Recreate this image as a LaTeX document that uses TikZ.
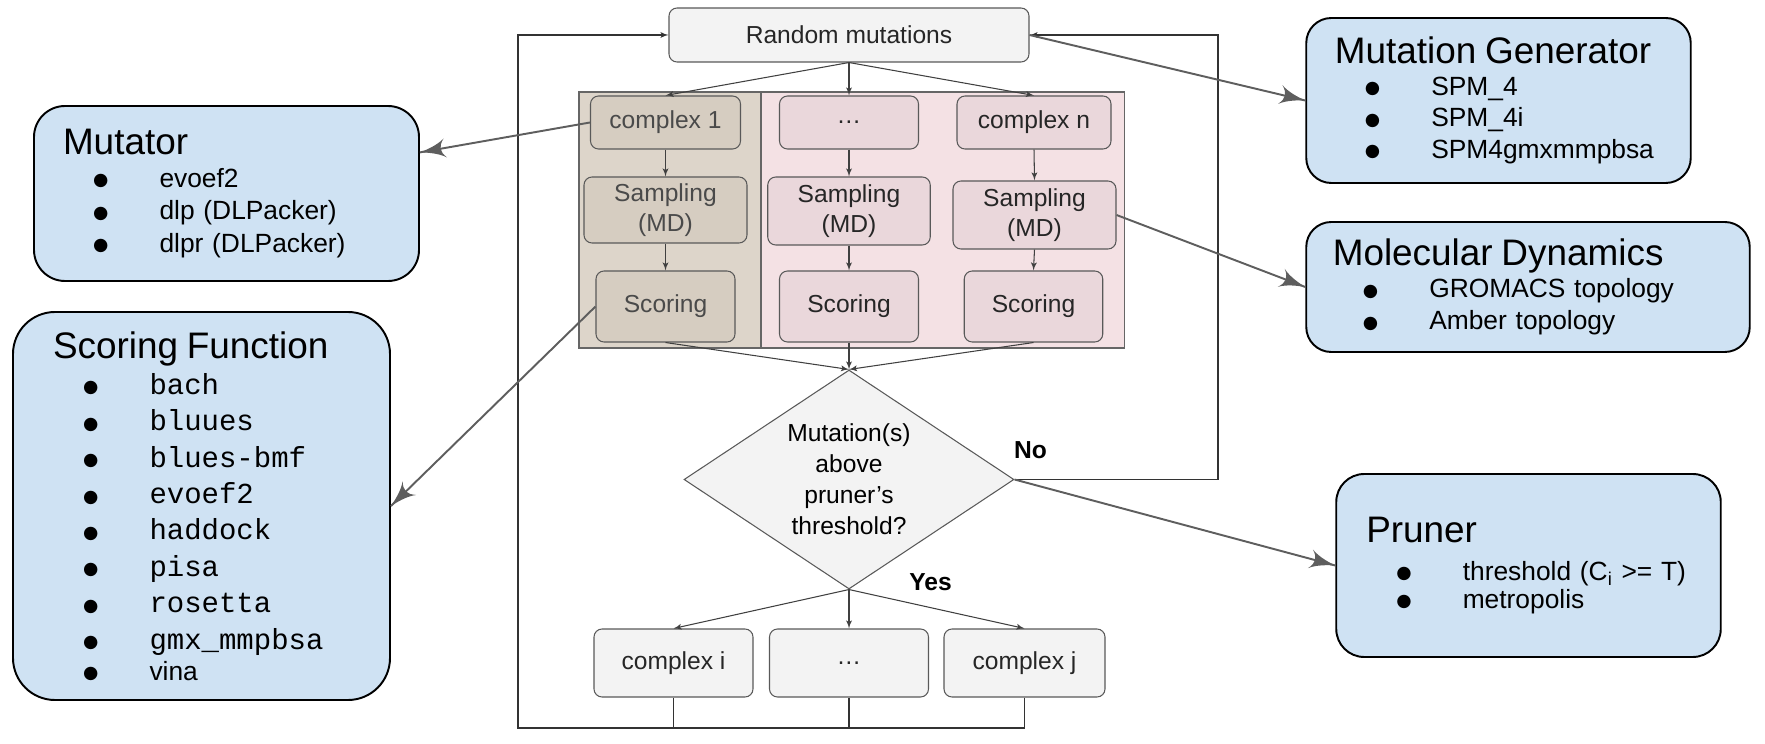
\documentclass[tikz,border=0pt]{standalone}
\usepackage{fontspec}
\setmainfont{Liberation Sans}
\setmonofont{Liberation Mono}
\newfontfamily\dotfont{DejaVu Sans}
\usepackage{tikz}
\usetikzlibrary{arrows}
\usetikzlibrary{decorations.markings}
\usetikzlibrary{shapes.geometric}
\usetikzlibrary{positioning}
\definecolor{sideblue}{HTML}{CFE2F3}
\definecolor{boxgray}{HTML}{F3F3F3}
\definecolor{edgegray}{HTML}{595959}
\definecolor{arrowgray}{HTML}{5E5E5E}
\definecolor{sandfill}{HTML}{DDD5CA}
\definecolor{sandbox}{HTML}{D6CDC1}
\definecolor{sandtext}{HTML}{4A4A4A}
\definecolor{pinkfill}{HTML}{F4E1E4}
\definecolor{pinkbox}{HTML}{EAD7DB}
\tikzset{pointer/.style = {draw=arrowgray, line width=1.1pt,
                           decoration={markings,
                                       mark=at position 1 with {\arrow[scale=2.4]{latex'}}},
                           postaction={decorate}}}
\tikzset{flow/.style = {draw=black!75, line width=0.6pt, -latex'}}
\tikzset{loopline/.style = {draw=black!80, line width=0.6pt}}
\tikzset{panelline/.style = {draw=black!60, line width=1.1pt}}
\tikzset{flowbox/.style = {draw=edgegray, fill=boxgray, rounded corners=0.16cm, line width=0.6pt,
                           align=center, inner sep=0pt, text=black!85,
                           font=\fontsize{14}{17}\selectfont}}
\tikzset{sandcell/.style = {flowbox, fill=sandbox, text=sandtext}}
\tikzset{pinkcell/.style = {flowbox, fill=pinkbox}}
\tikzset{decision/.style = {diamond, draw=edgegray, fill=boxgray, line width=0.6pt, aspect=1.5,
                            inner sep=0pt, minimum width=6.6cm, minimum height=4.38cm,
                            align=center, font=\fontsize{14}{17.6}\selectfont}}
\tikzset{infobox/.style = {draw=black, fill=sideblue, line width=1.1pt, align=left,
                           font=\fontsize{15}{18.5}\selectfont}}
\newcommand{\boxtitle}[1]{\noindent{\fontsize{21}{25}\selectfont #1\par}}
\newcommand{\bitem}[1]{\noindent\hspace*{0.6cm}\makebox[1.33cm][l]{\raisebox{0.9pt}{\dotfont\fontsize{10}{10}\selectfont ●}}#1\par}
\newcommand{\monoitem}[1]{\bitem{{\ttfamily\fontsize{16.5}{20.7}\selectfont #1}}}

\begin{document}
\begin{tikzpicture}
    \useasboundingbox (0, 0) rectangle (35.3, 14.86);

    \fill [sandfill] (11.58, 7.9) rectangle (15.22, 13.02);
    \fill [pinkfill] (15.22, 7.9) rectangle (22.49, 13.02);
    \draw [panelline] (11.58, 7.9) rectangle (22.49, 13.02);
    \draw [panelline] (15.22, 7.9) -- (15.22, 13.02);

    \node [flowbox, minimum width=7.2cm, minimum height=1.08cm] (rand) at (16.98, 14.16) {Random mutations};

    \node [sandcell, minimum width=3.0cm, minimum height=1.06cm] (cone) at (13.31, 12.41) {complex 1};
    \node [sandcell, minimum width=3.26cm, minimum height=1.32cm] (sone) at (13.31, 10.66) {Sampling\\(MD)};
    \node [sandcell, minimum width=2.78cm, minimum height=1.42cm] (rone) at (13.31, 8.73) {Scoring};

    \node [pinkcell, minimum width=2.78cm, minimum height=1.06cm] (cdots) at (16.98, 12.41) {…};
    \node [pinkcell, minimum width=3.25cm, minimum height=1.36cm] (sdots) at (16.98, 10.64) {Sampling\\(MD)};
    \node [pinkcell, minimum width=2.78cm, minimum height=1.42cm] (rdots) at (16.98, 8.73) {Scoring};

    \node [pinkcell, minimum width=3.08cm, minimum height=1.06cm] (cn) at (20.68, 12.41) {complex n};
    \node [pinkcell, minimum width=3.26cm, minimum height=1.36cm] (sn) at (20.69, 10.56) {Sampling\\(MD)};
    \node [pinkcell, minimum width=2.77cm, minimum height=1.42cm] (rn) at (20.67, 8.73) {Scoring};

    \node [decision] (dec) at (16.98, 5.27) {Mutation(s)\\above\\pruner’s\\threshold?};

    \node [flowbox, minimum width=3.18cm, minimum height=1.36cm] (ci) at (13.47, 1.6) {complex i};
    \node [flowbox, minimum width=3.18cm, minimum height=1.36cm] (cmid) at (16.98, 1.6) {…};
    \node [flowbox, minimum width=3.22cm, minimum height=1.36cm] (cj) at (20.49, 1.6) {complex j};

    \node [font=\bfseries\fontsize{14}{17}\selectfont] (nolbl) at (20.61, 5.86) {No};
    \node [font=\bfseries\fontsize{14}{17}\selectfont] (yeslbl) at (18.61, 3.22) {Yes};

    \node [infobox, rounded corners=0.62cm, text width=6.54cm, inner xsep=0.58cm, minimum height=3.5cm] (mutator) at (4.53, 10.99)
        {\boxtitle{Mutator}\bitem{evoef2}\bitem{dlp (DLPacker)}\bitem{dlpr (DLPacker)}};
    \node [infobox, rounded corners=0.84cm, text width=5.94cm, inner xsep=0.8cm, minimum height=7.76cm,
           font=\fontsize{15}{20.7}\selectfont] (scorefn) at (4.03, 4.74)
        {\boxtitle{Scoring Function}\monoitem{bach}\monoitem{bluues}\monoitem{blues-bmf}\monoitem{evoef2}%
         \monoitem{haddock}\monoitem{pisa}\monoitem{rosetta}\monoitem{gmx\_mmpbsa}\bitem{\fontsize{15}{17.6}\selectfont vina}};
    \node [infobox, rounded corners=0.5cm, text width=6.55cm, inner xsep=0.57cm, minimum height=3.3cm,
           font=\fontsize{15}{17.9}\selectfont] (mgen) at (29.97, 12.85)
        {\boxtitle{Mutation Generator}\bitem{SPM\_4}\bitem{SPM\_4i}\bitem{SPM4gmxmmpbsa}};
    \node [infobox, rounded corners=0.5cm, text width=7.81cm, inner xsep=0.53cm, minimum height=2.6cm,
           font=\fontsize{15}{18.2}\selectfont] (moldyn) at (30.56, 9.12)
        {\boxtitle{Molecular Dynamics}\bitem{GROMACS topology}\bitem{Amber topology}};
    \node [infobox, rounded corners=0.56cm, text width=6.49cm, inner xsep=0.6cm, minimum height=3.66cm,
           font=\fontsize{15}{16}\selectfont] (pruner) at (30.57, 3.55)
        {\boxtitle{Pruner}\vspace{0.2cm}\bitem{threshold (C\textsubscript{i} >= T)}\bitem{metropolis}};

    \draw [flow] (rand.south) -- (cone.north);
    \draw [flow] (rand.south) -- (cdots.north);
    \draw [flow] (rand.south) -- (cn.north);

    \draw [flow] (cone.south) -- (sone.north);
    \draw [flow] (sone.south) -- (rone.north);
    \draw [flow] (cdots.south) -- (sdots.north);
    \draw [flow] (sdots.south) -- (rdots.north);
    \draw [flow] (cn.south) -- (sn.north);
    \draw [flow] (sn.south) -- (rn.north);

    \draw [flow] (rone.south) -- (dec.north);
    \draw [flow] (rdots.south) -- (dec.north);
    \draw [flow] (rn.south) -- (dec.north);

    \draw [flow] (dec.south) -- (ci.north);
    \draw [flow] (dec.south) -- (cmid.north);
    \draw [flow] (dec.south) -- (cj.north);

    % feedback loops
    \coordinate (loopleft) at (10.36, 0.3);
    \coordinate (loopright) at (24.36, 0.3);
    \draw [loopline, -latex'] (cj.south) |- (loopleft) |- (rand.west);
    \draw [loopline] (ci.south) -- (ci.south |- loopleft);
    \draw [loopline] (cmid.south) -- (cmid.south |- loopleft);
    \draw [loopline, -latex'] (dec.east) -| (loopright |- rand.east) -- (rand.east);

    \draw [pointer] (rand.east) -- (mgen.west);
    \draw [pointer] (cone.west) -- (mutator.12);
    \draw [pointer] (rone.west) -- (scorefn.east);
    \draw [pointer] (sn.east) -- (moldyn.west);
    \draw [pointer] (dec.east) -- (pruner.west);
\end{tikzpicture}
\end{document}
